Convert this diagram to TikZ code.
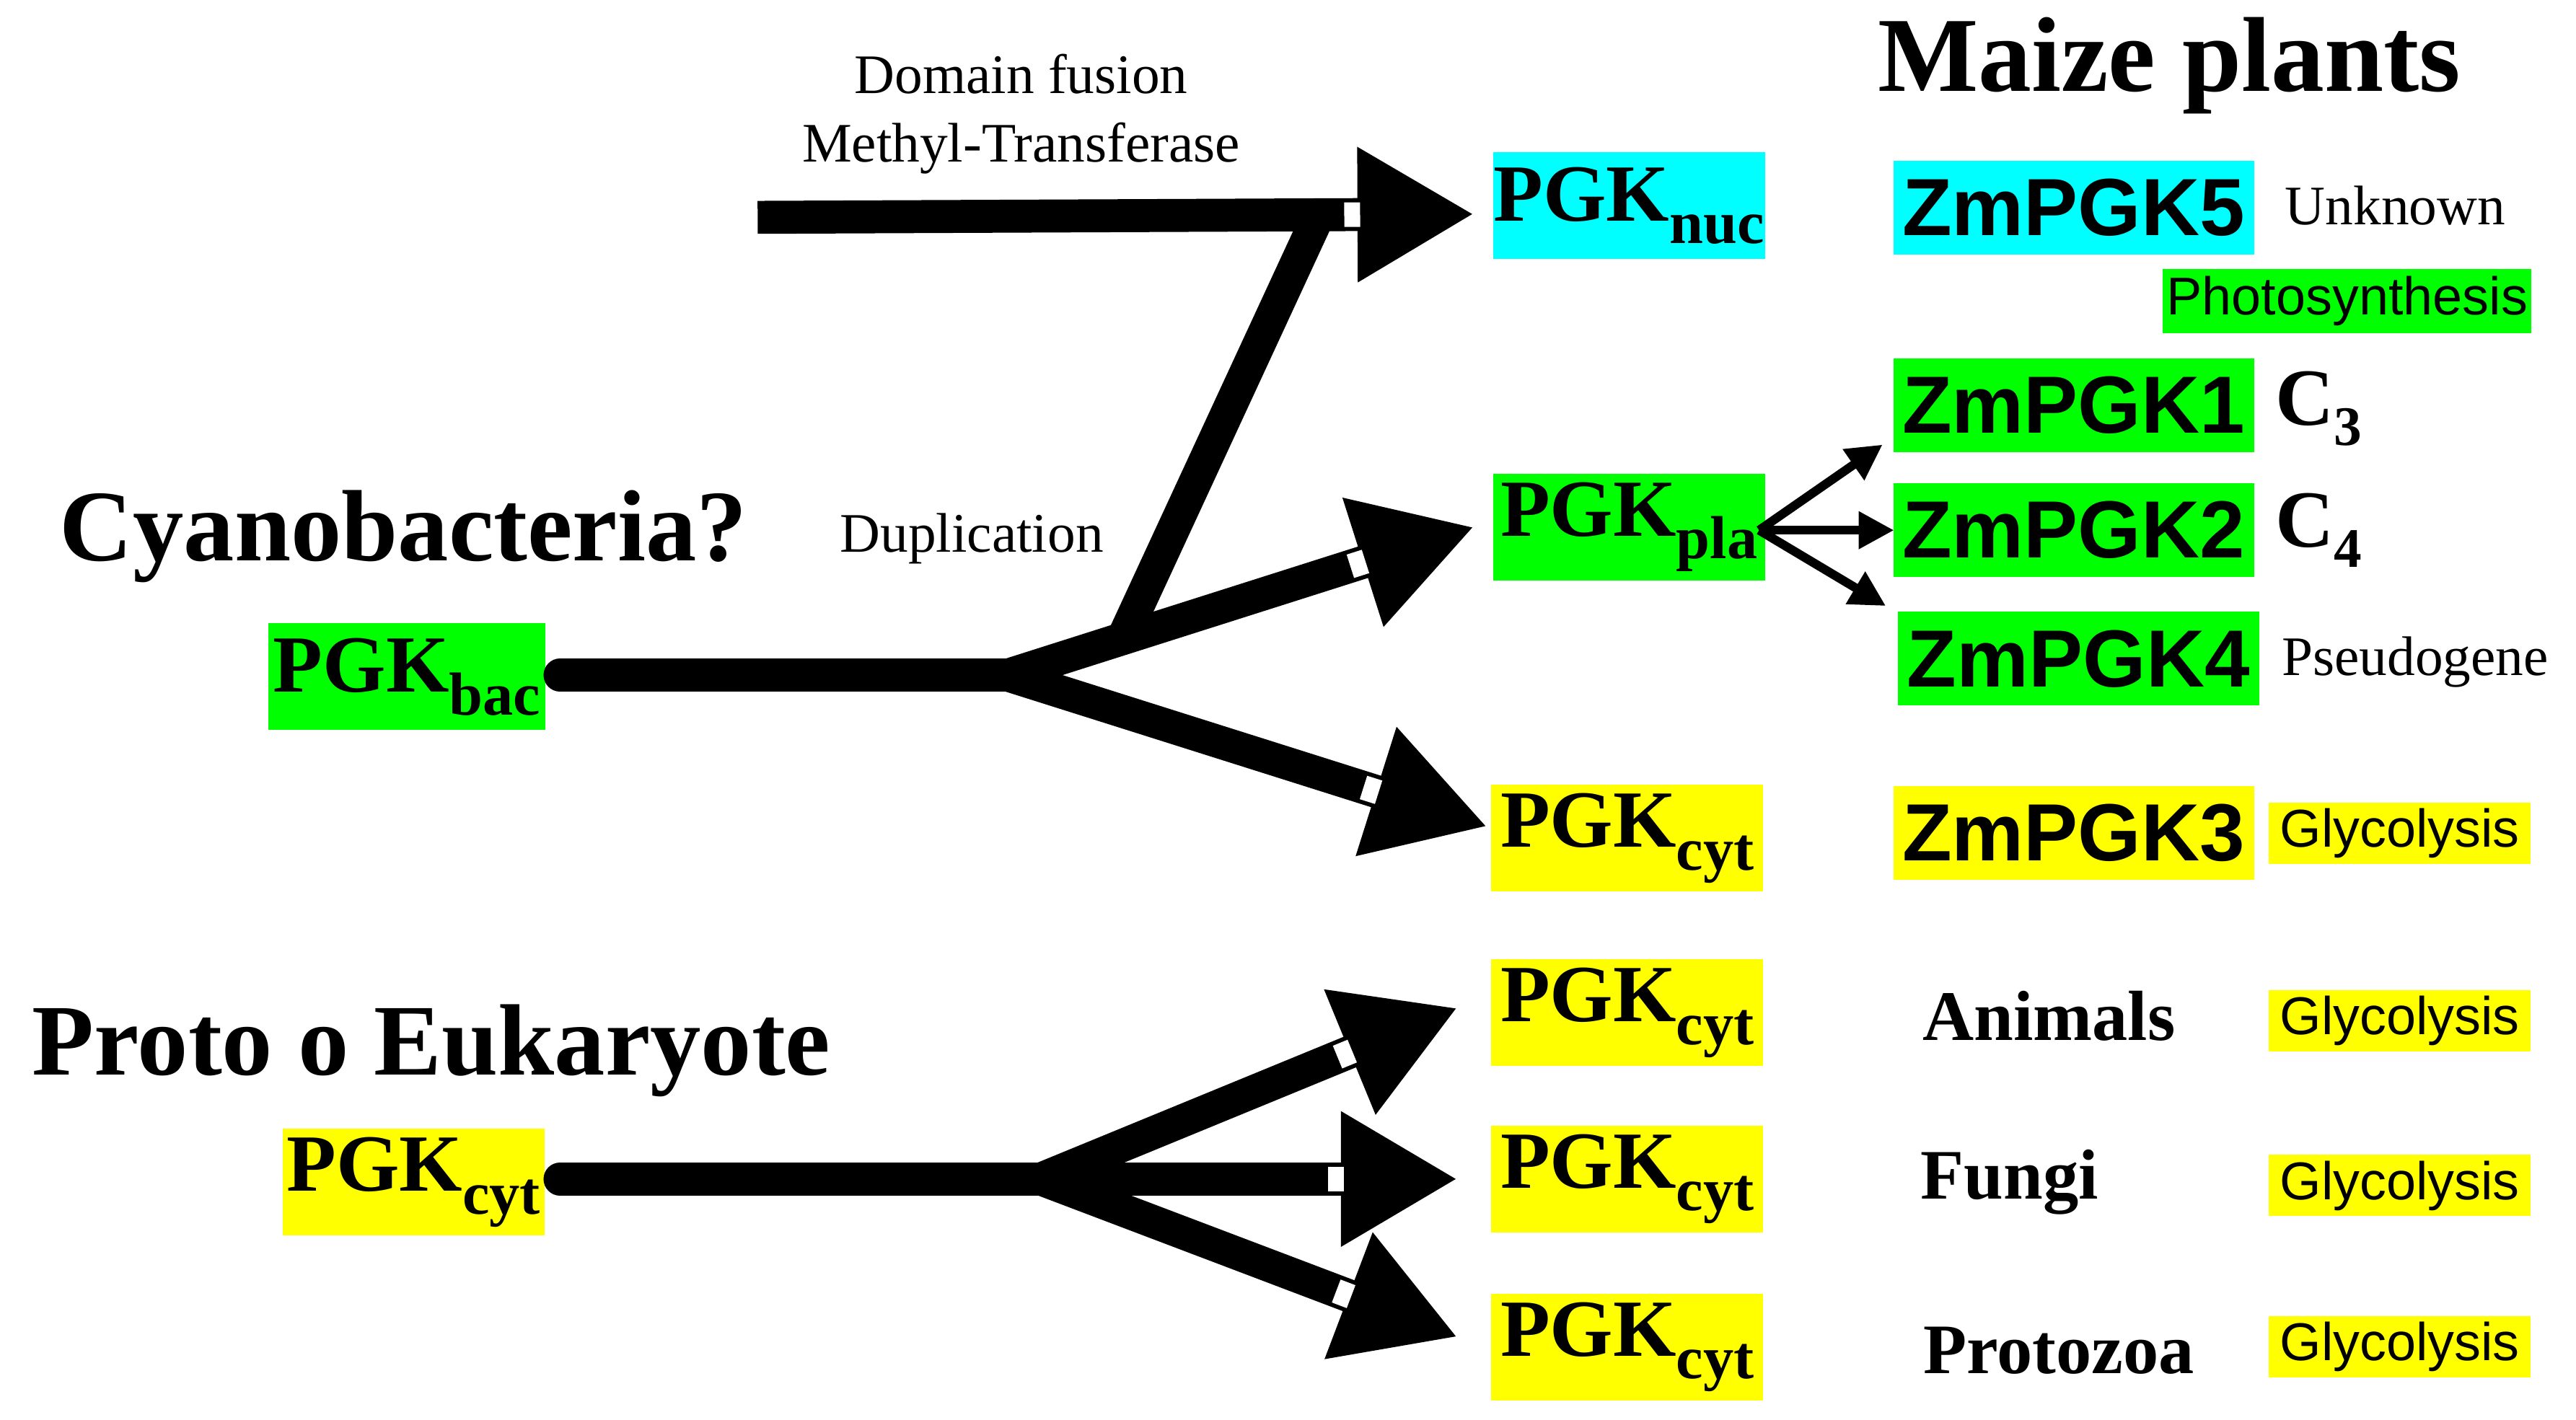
\documentclass[tikz,border=0pt]{standalone}
\usepackage{fontspec}
\setmainfont{Liberation Serif}
\newfontfamily\sansf{Liberation Sans}
\usetikzlibrary{arrows.meta,calc}
\definecolor{cy}{HTML}{00FFFF}
\definecolor{gr}{HTML}{00FF00}
\definecolor{ye}{HTML}{FFFF00}
\newcommand{\fs}[1]{\fontsize{#1pt}{#1pt}\selectfont}
\newcommand{\pgk}[1]{PGK\raisebox{-0.28em}{\fs{24}#1}}
\begin{document}
\begin{tikzpicture}[x=0.022833cm,y=-0.022833cm,
  big/.style={line width=13pt,-{Triangle[length=46pt,width=50pt]}},
  stem/.style={line width=13pt,line cap=round},
  small/.style={line width=3.5pt,-{Triangle[length=14pt,width=14pt]}},
  wmark/.style={white,line width=0.34cm},
  pb/.style={inner sep=0,minimum width=3.77cm,minimum height=1.48cm,font=\bfseries\fs{32}},
  zb/.style={inner sep=0,minimum width=5.0cm,minimum height=1.3cm,font=\sansf\bfseries\fs{32}},
  gly/.style={fill=ye,inner sep=0,minimum width=3.63cm,minimum height=0.85cm,font=\sansf\fs{21}},
  reg/.style={font=\fs{22}},
  hd/.style={font=\bfseries\fs{40}},
  org/.style={font=\bfseries\fs{28}}]
\useasboundingbox (0,0) rectangle (1564,862);
% nodes
\node[pb,fill=cy] (nuc) at (989,125) {\pgk{nuc}};
\node[pb,fill=gr] (pla) at (989,320) {\pgk{pla}};
\node[pb,fill=ye] (cyt1) at (988,509) {\pgk{cyt}};
\node[pb,fill=ye] (cyt2) at (988,615) {\pgk{cyt}};
\node[pb,fill=ye] (cyt3) at (988,716) {\pgk{cyt}};
\node[pb,fill=ye] (cyt4) at (988,818) {\pgk{cyt}};
\node[pb,fill=gr,minimum width=3.84cm] (bac) at (247,411) {\pgk{bac}};
\node[pb,fill=ye,minimum width=3.63cm] (cyt0) at (251,718) {\pgk{cyt}};
\node[hd] (cyano) at (245,326) {Cyanobacteria?};
\node[hd] (proto) at (262,638) {Proto o Eukaryote};
\node[reg] (df) at (620,45) {Domain fusion};
\node[reg] (mt) at (620,90) {Methyl-Transferase};
\node[reg] (dup) at (590,327) {Duplication};
\node[hd,font=\bfseries\fs{42}] (maize) at (1317,40) {Maize plants};
\node[zb,fill=cy] (z5) at (1259,126) {ZmPGK5};
\node[reg,anchor=west] (unk) at (1382,125) {Unknown};
\node[fill=gr,inner sep=0,minimum width=5.11cm,minimum height=0.89cm,font=\sansf\fs{21}] (ph) at (1425,183) {Photosynthesis};
\node[zb,fill=gr] (z1) at (1259,246) {ZmPGK1};
\node[font=\bfseries\fs{32},anchor=west] (c3) at (1376,248) {C\raisebox{-0.25em}{\fs{22}3}};
\node[zb,fill=gr] (z2) at (1259,322) {ZmPGK2};
\node[font=\bfseries\fs{32},anchor=west] (c4) at (1376,322) {C\raisebox{-0.25em}{\fs{22}4}};
\node[zb,fill=gr] (z4) at (1262,400) {ZmPGK4};
\node[reg,anchor=west] (ps) at (1380,402) {Pseudogene};
\node[zb,fill=ye] (z3) at (1259,506) {ZmPGK3};
\node[gly] (g1) at (1457,506) {Glycolysis};
\node[org] (an) at (1244,617) {Animals};
\node[gly] (g2) at (1457,620) {Glycolysis};
\node[org] (fu) at (1220,718) {Fungi};
\node[gly] (g3) at (1457,720) {Glycolysis};
\node[org] (pr) at (1250,820) {Protozoa};
\node[gly] (g4) at (1457,818) {Glycolysis};
% coordinates
\coordinate (t0) at (460,132);
\coordinate (tN) at (895,130);
\coordinate (s0) at (340,410);
\coordinate (j) at (612,410);
\coordinate (u0) at (683,385);
\coordinate (u1) at (800,132);
\coordinate (pA) at (895,320);
\coordinate (pC) at (903,502);
\coordinate (q0) at (340,716);
\coordinate (k) at (632,716);
\coordinate (r1) at (885,612);
\coordinate (r2) at (885,716);
\coordinate (r3) at (885,812);
\coordinate (sp) at (1068,322);
\coordinate (a1) at (1143,270);
\coordinate (a2) at (1150,322);
\coordinate (a3) at (1145,368);
% arrows
\draw[line width=13pt,line cap=round] (u0) -- (u1);
\draw[big] (t0) -- (tN);
\draw[stem] (s0) -- (j);
\draw[big] (j) -- (pA);
\draw[big] (j) -- (pC);
\draw[stem] (q0) -- (k);
\draw[big] (k) -- (r1);
\draw[big] (k) -- (r2);
\draw[big] (k) -- (r3);
\foreach \a/\b in {t0/tN,j/pA,j/pC,k/r1,k/r2,k/r3}
  \draw[wmark] ($(\b)!1.58cm!(\a)$) -- ($(\b)!1.8cm!(\a)$);
\draw[small] (sp) -- (a1);
\draw[small] (sp) -- (a2);
\draw[small] (sp) -- (a3);
\end{tikzpicture}
\end{document}
